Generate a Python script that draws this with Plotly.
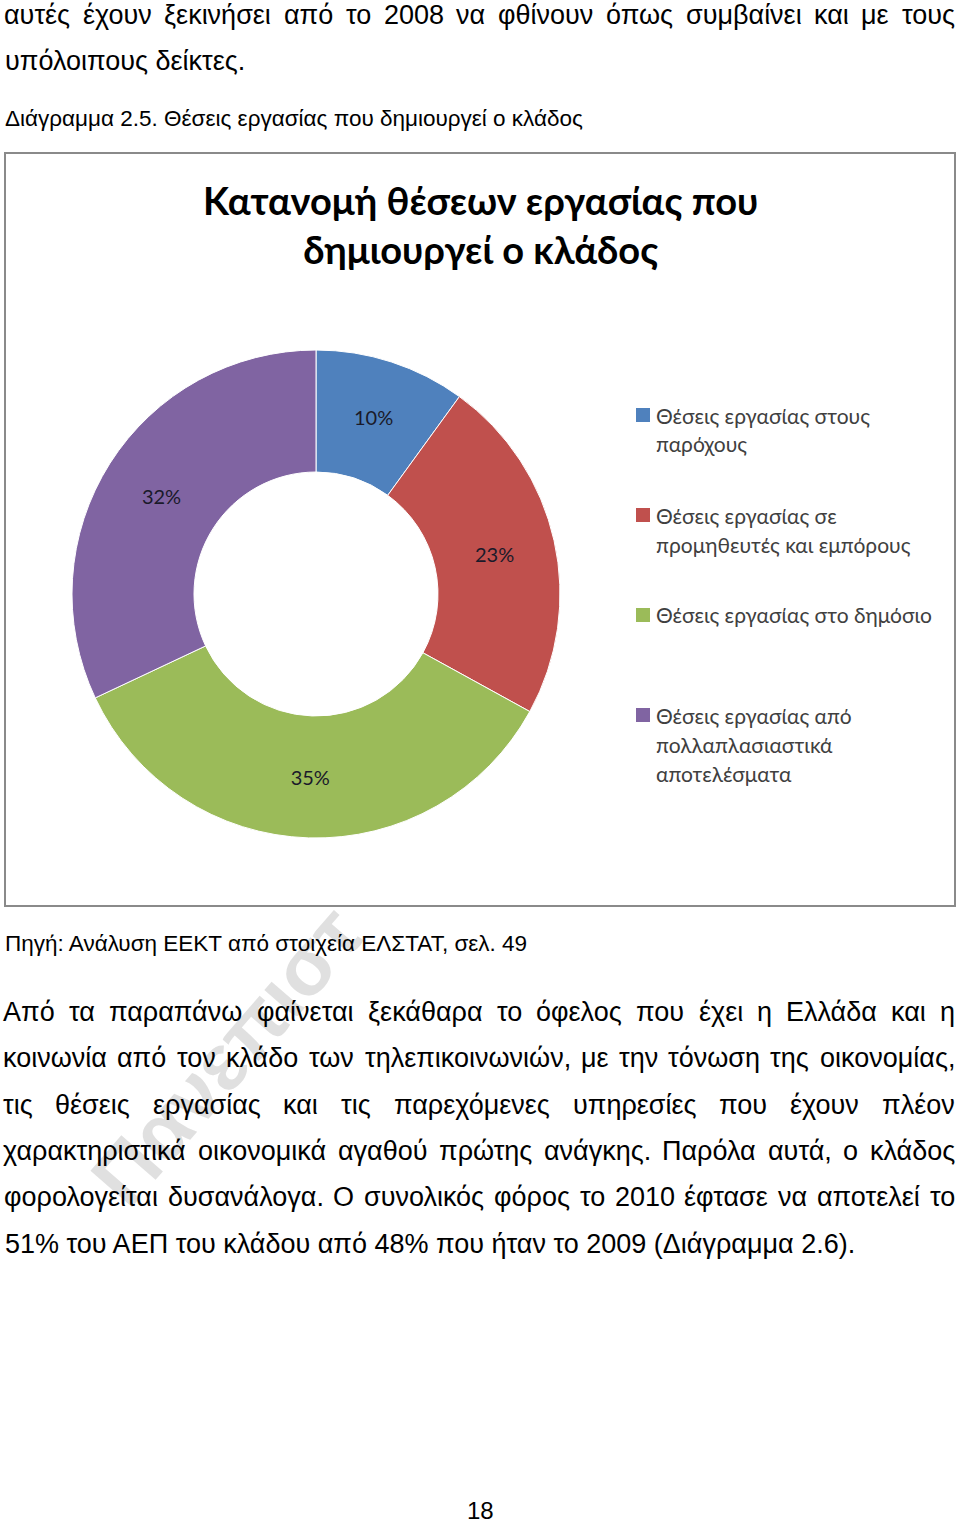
import unicodedata
import plotly.graph_objects as go

# ---------------- data ----------------
categories = [
    "Θέσεις εργασίας στους<br>παρόχους",
    "Θέσεις εργασίας σε<br>προμηθευτές και εμπόρους",
    "Θέσεις εργασίας στο δημόσιο",
    "Θέσεις εργασίας από<br>πολλαπλασιαστικά<br>αποτελέσματα",
]
shares = [10, 23, 35, 32]
colors = ["#4F81BD", "#C0504D", "#9BBB59", "#8064A2"]

chart_title = "Κατανομή θέσεων εργασίας που<br>δημιουργεί ο κλάδος"

top_lines = [
    "αυτές έχουν ξεκινήσει από το 2008 να φθίνουν όπως συμβαίνει και με τους",
    "υπόλοιπους δείκτες.",
]
caption = "Διάγραμμα 2.5. Θέσεις εργασίας που δημιουργεί ο κλάδος"
source = "Πηγή: Ανάλυση ΕΕΚΤ από στοιχεία ΕΛΣΤΑΤ, σελ. 49"
paragraph = [
    "Από τα παραπάνω φαίνεται ξεκάθαρα το όφελος που έχει η Ελλάδα και η",
    "κοινωνία από τον κλάδο των τηλεπικοινωνιών,  με την τόνωση της οικονομίας,",
    "τις θέσεις εργασίας και τις παρεχόμενες υπηρεσίες που έχουν πλέον",
    "χαρακτηριστικά οικονομικά αγαθού πρώτης ανάγκης. Παρόλα αυτά, ο κλάδος",
    "φορολογείται δυσανάλογα. Ο συνολικός φόρος το 2010 έφτασε να αποτελεί το",
    "51% του ΑΕΠ του κλάδου από 48% που ήταν το 2009 (Διάγραμμα 2.6).",
]
page_number = "18"
watermark = "Πανεπιστ"

# ---------------- helpers ----------------
W, H = 960, 1524


def X(px):
    return px / W


def Y(py):
    return 1 - py / H


ARIAL = {
    " ": 278, ",": 278, ".": 278, ":": 278, "(": 333, ")": 333, "%": 889,
    "α": 577, "β": 575, "γ": 500, "δ": 556, "ε": 446, "ζ": 441, "η": 556,
    "θ": 556, "ι": 222, "κ": 500, "λ": 500, "μ": 577, "ν": 500, "ξ": 447,
    "ο": 556, "π": 690, "ρ": 571, "σ": 617, "ς": 484, "τ": 395, "υ": 548,
    "φ": 650, "χ": 525, "ψ": 713, "ω": 781,
    "Α": 667, "Β": 667, "Γ": 542, "Δ": 667, "Ε": 667, "Ζ": 611, "Η": 722,
    "Θ": 778, "Ι": 278, "Κ": 667, "Λ": 667, "Μ": 833, "Ν": 722, "Ξ": 650,
    "Ο": 778, "Π": 722, "Ρ": 667, "Σ": 618, "Τ": 611, "Υ": 667, "Φ": 796,
    "Χ": 667, "Ψ": 836, "Ω": 748,
}


def text_width(s, size):
    tot = 0
    for ch in s:
        base = unicodedata.normalize("NFD", ch)[0]
        tot += ARIAL.get(base, 556)
    return tot * size / 1000.0


BODY_FONT = "Liberation Sans, Arial, sans-serif"
BODY_SIZE = 27

annotations = []


def add_line(text, y, size=BODY_SIZE, x0=4, justify=False, x1=955, color="#000000"):
    if not justify:
        annotations.append(dict(
            x=X(x0), y=Y(y), xref="paper", yref="paper", text=text,
            showarrow=False, xanchor="left", yanchor="middle",
            font=dict(family=BODY_FONT, size=size, color=color)))
        return
    words = text.split()
    widths = [text_width(w, size) for w in words]
    gap = (x1 - x0 - sum(widths)) / (len(words) - 1)
    pos = x0
    for w, wd in zip(words, widths):
        annotations.append(dict(
            x=X(pos + wd / 2), y=Y(y), xref="paper", yref="paper", text=w,
            showarrow=False, xanchor="center", yanchor="middle",
            font=dict(family=BODY_FONT, size=size, color=color)))
        pos += wd + gap


# watermark (drawn first so page text sits on top)
annotations.append(dict(
    x=X(226), y=Y(1056), xref="paper", yref="paper", text="<b>" + watermark + "</b>",
    showarrow=False, xanchor="center", yanchor="middle", textangle=-49,
    font=dict(family=BODY_FONT, size=80, color="rgba(160,160,160,0.33)")))

# page text above chart
add_line(top_lines[0], 15, justify=True)
add_line(top_lines[1], 61, x0=3)
add_line(caption, 118, size=22.5, x0=3)

# page text below chart
add_line(source, 943, size=22.5, x0=3)
para_y = [1012, 1058, 1105, 1151, 1197, 1244]
for i, (line, y) in enumerate(zip(paragraph, para_y)):
    add_line(line, y, justify=(i < len(paragraph) - 1), x0=3)

annotations.append(dict(
    x=X(480), y=Y(1510), xref="paper", yref="paper", text=page_number,
    showarrow=False, xanchor="center", yanchor="middle",
    font=dict(family=BODY_FONT, size=24, color="#000000")))

# chart title
TITLE_FONT = "Lato, 'Open Sans', sans-serif"
annotations.append(dict(
    x=X(480), y=Y(225), xref="paper", yref="paper",
    text="<b>" + chart_title.replace("<br>", "</b><br><b>") + "</b>",
    showarrow=False, xanchor="center", yanchor="middle",
    font=dict(family=TITLE_FONT, size=38, color="#000000")))

# manual legend
shapes = []
legend_y = [415, 515, 615, 715]
for lab, col, y in zip(categories, colors, legend_y):
    shapes.append(dict(type="rect", xref="paper", yref="paper",
                       x0=X(636), x1=X(650), y0=Y(y + 7), y1=Y(y - 7),
                       fillcolor=col, line=dict(width=0)))
    for k, part in enumerate(lab.split("<br>")):
        annotations.append(dict(
            x=X(654), y=Y(y + 29 * k), xref="paper", yref="paper", text=part,
            showarrow=False, xanchor="left", yanchor="middle",
            font=dict(family=TITLE_FONT, size=21, color="#404040")))

# chart box border
shapes.append(dict(type="rect", xref="paper", yref="paper",
                   x0=X(5), x1=X(955), y0=Y(906), y1=Y(153),
                   line=dict(color="#8a8a8a", width=2), fillcolor="rgba(0,0,0,0)",
                   layer="below"))

# ---------------- figure ----------------
cx, cy, r = 316, 594, 244
fig = go.Figure(go.Pie(
    labels=[c.replace("<br>", " ") for c in categories],
    values=shares,
    hole=0.5,
    sort=False,
    direction="clockwise",
    rotation=0,
    marker=dict(colors=colors, line=dict(color="#ffffff", width=1)),
    texttemplate="%{percent:.0%}",
    textposition="inside",
    insidetextorientation="horizontal",
    textfont=dict(family=TITLE_FONT, size=20, color="#1a1a2a"),
    domain=dict(x=[X(cx - r), X(cx + r)], y=[Y(cy + r), Y(cy - r)]),
    showlegend=False,
))

fig.update_layout(
    width=W, height=H,
    margin=dict(l=0, r=0, t=0, b=0),
    paper_bgcolor="#ffffff",
    plot_bgcolor="#ffffff",
    annotations=annotations,
    shapes=shapes,
)

fig.write_html("out.html")
